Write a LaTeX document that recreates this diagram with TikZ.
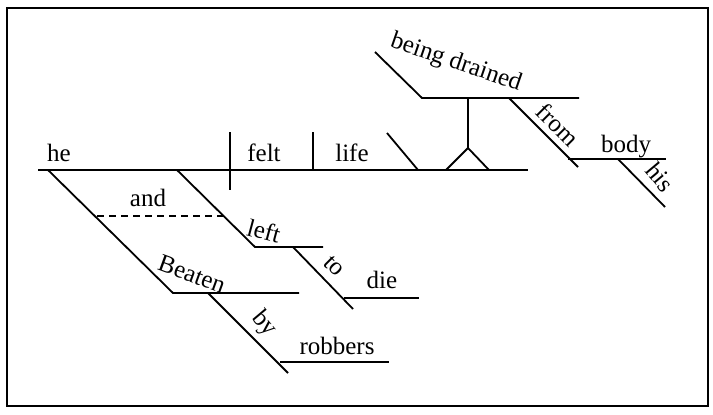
\documentclass[tikz,border=0pt]{standalone}
\usepackage{fontspec}
\setmainfont{Liberation Serif}
\usetikzlibrary{calc}

\begin{document}
\begin{tikzpicture}[x=1pt,y=-1pt,line width=1.8pt,
  word/.style={font=\fontsize{25}{27}\selectfont, inner sep=0pt, anchor=base},
  slantword/.style={font=\fontsize{25}{27}\selectfont, inner sep=0pt}]

\useasboundingbox (0,0) rectangle (713,415);
\draw[line width=1.5pt] (7,8) rectangle (708,406);

% base line
\coordinate (baseL) at (38,170);
\coordinate (baseR) at (528,170);
\draw (baseL) -- (baseR);
\draw (230,132) -- (230,190);
\draw (313,132) -- (313,170);
\draw (387,133) -- (418,170);

% stilt for the participle phrase
\coordinate (apex) at (468,148);
\coordinate (top) at (468,98);
\draw (446,170) -- (apex) -- (489,170);
\draw (apex) -- (top);
\draw (375,52) -- (422,98) -- (579,98);
\draw (509,98) -- (578,167);
\draw (568,159) -- (666,159);
\draw (618,159) -- (665,207);

% compound
\draw (48,170) -- (173,293) -- (299,293);
\draw (208,293) -- (288,373);
\draw (280,362) -- (389,362);
\draw (177,170) -- (255,247) -- (323,247);
\draw (293,247) -- (353,309);
\draw (344,298) -- (419,298);
\draw[dashed,dash pattern=on 7pt off 5pt] (97,216) -- (223,216);

\node[word] (he) at (59,161) {he};
\node[word] (felt) at (264,161) {felt};
\node[word] (life) at (352,161) {life};
\node[word] (and) at (148,206) {and};
\node[word] (die) at (382,288) {die};
\node[word] (robbers) at (337,354) {robbers};
\node[word] (body) at (626,152) {body};

\node[slantword,rotate=-19] (drained) at (456,63) {being drained};
\node[slantword,rotate=-45] (from) at (558,125) {from};
\node[slantword,rotate=-50] (his) at (660,177) {his};
\node[slantword,rotate=-15] (left) at (264,231) {left};
\node[slantword,rotate=-45] (to) at (334,266) {to};
\node[slantword,rotate=-20] (beaten) at (192,274) {Beaten};
\node[slantword,rotate=-50] (by) at (264,324) {by};

\end{tikzpicture}
\end{document}
